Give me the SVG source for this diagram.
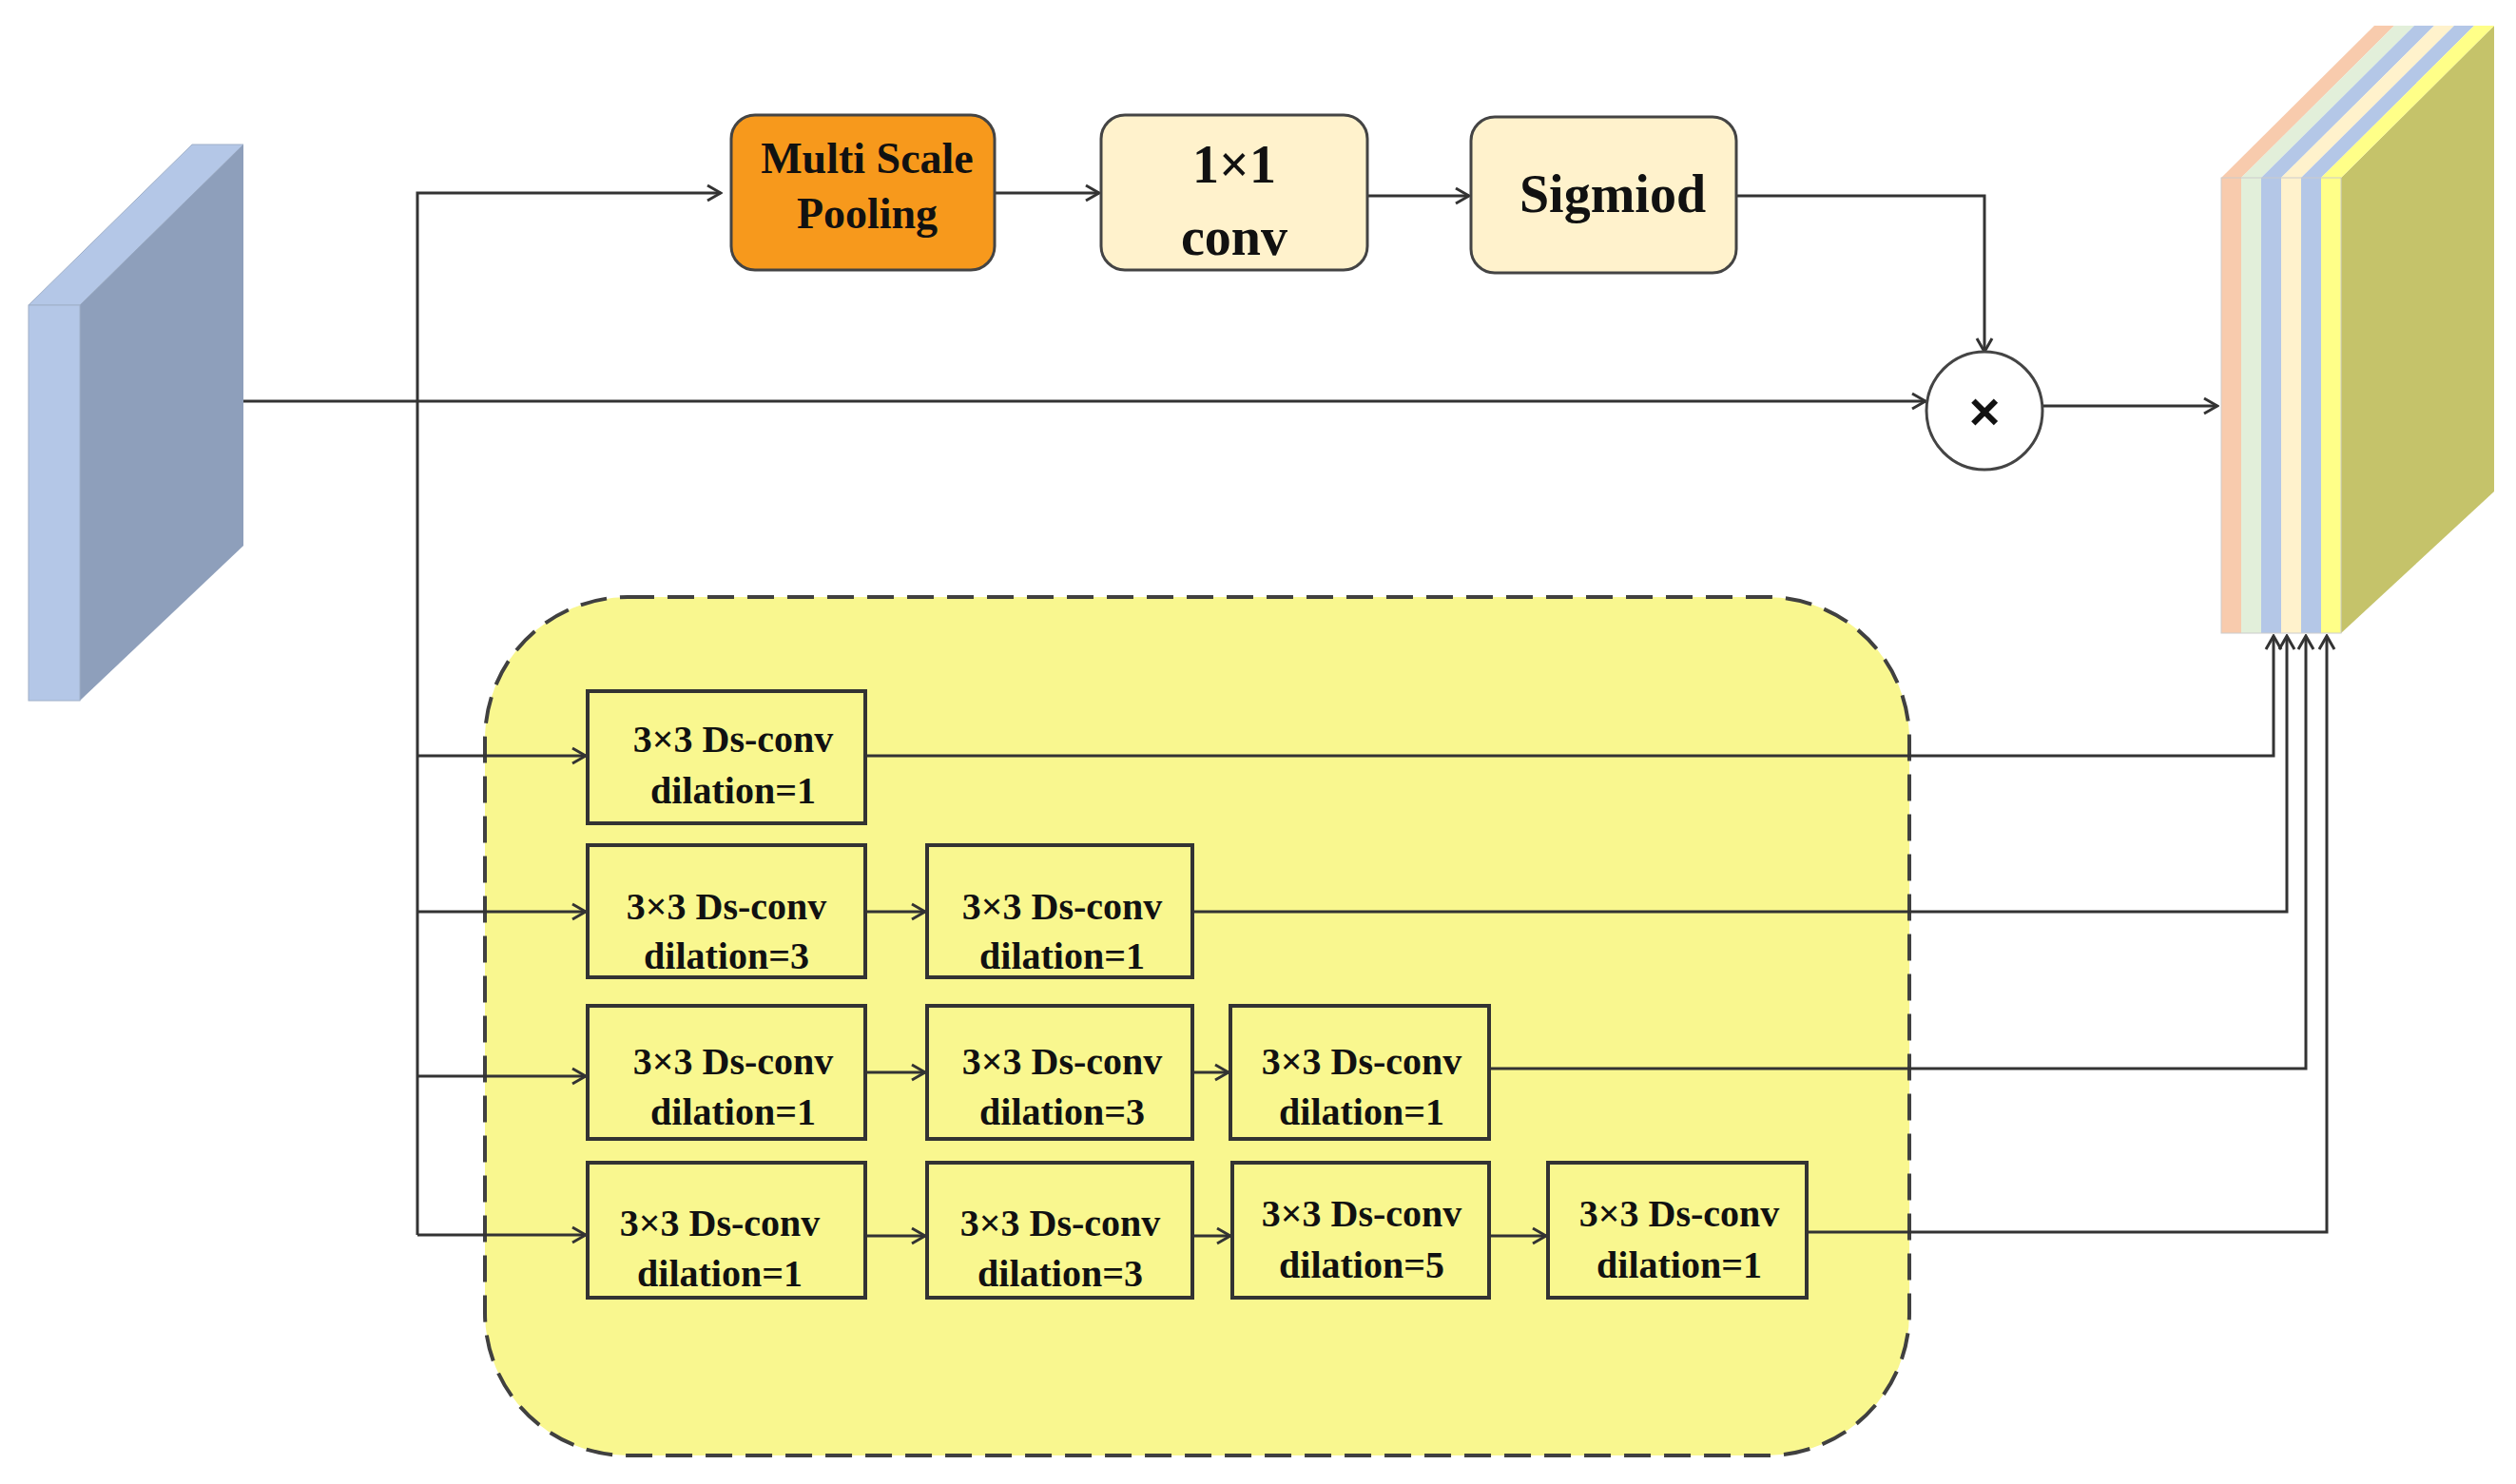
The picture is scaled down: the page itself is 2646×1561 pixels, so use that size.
<svg xmlns="http://www.w3.org/2000/svg" width="2646" height="1561" viewBox="0 0 2646 1561">
<style>
.ln{fill:none;stroke:#333;stroke-width:3}
.bx{fill:#f9f78f;stroke:#333;stroke-width:4}
.t{font-family:"Liberation Serif",serif;font-weight:bold;fill:#111;text-anchor:middle}
.s{font-size:40px}
.top{stroke:#444;stroke-width:3}
</style>
<defs>
<marker id="a" viewBox="0 0 20 20" refX="18" refY="10" markerWidth="20" markerHeight="20" markerUnits="userSpaceOnUse" orient="auto">
<path d="M4,2 L18,10 L4,18" fill="none" stroke="#333" stroke-width="3"/>
</marker>
</defs>
<rect width="2646" height="1561" fill="#fff"/>
<g id="input">
<polygon points="30,321 84,321 256,152 202,152" fill="#b4c7e7" stroke="#a0b0c8"/>
<polygon points="84,321 256,152 256,574 84,737" fill="#8e9fbb"/>
<rect x="30" y="321" width="54" height="416" fill="#b4c7e7" stroke="#a0b0c8"/>
</g>
<g id="group-bg">
<rect x="510" y="628" width="1498" height="903" rx="150" fill="#f9f78f" stroke="#404040" stroke-width="4" stroke-dasharray="28,14"/>
</g>
<g id="connectors">
<path class="ln" d="M439,1299 V203 H758" marker-end="url(#a)"/>
<path class="ln" d="M1046,203 H1156" marker-end="url(#a)"/>
<path class="ln" d="M1438,206 H1545" marker-end="url(#a)"/>
<path class="ln" d="M1826,206 H2087 V370" marker-end="url(#a)"/>
<path class="ln" d="M256,422 H2025" marker-end="url(#a)"/>
<path class="ln" d="M2149,427 H2332" marker-end="url(#a)"/>
<path class="ln" d="M439,795 H616" marker-end="url(#a)"/>
<path class="ln" d="M439,959 H616" marker-end="url(#a)"/>
<path class="ln" d="M439,1132 H616" marker-end="url(#a)"/>
<path class="ln" d="M439,1299 H616" marker-end="url(#a)"/>
<path class="ln" d="M910,959 H973" marker-end="url(#a)"/>
<path class="ln" d="M910,1128 H973" marker-end="url(#a)"/>
<path class="ln" d="M1254,1128 H1292" marker-end="url(#a)"/>
<path class="ln" d="M910,1300 H973" marker-end="url(#a)"/>
<path class="ln" d="M1254,1300 H1294" marker-end="url(#a)"/>
<path class="ln" d="M1566,1300 H1626" marker-end="url(#a)"/>
<path class="ln" d="M910,795 H2391 V669" marker-end="url(#a)"/>
<path class="ln" d="M1254,959 H2405 V669" marker-end="url(#a)"/>
<path class="ln" d="M1566,1124 H2425 V669" marker-end="url(#a)"/>
<path class="ln" d="M1900,1296 H2447 V669" marker-end="url(#a)"/>
</g>
<g id="msp"><rect x="769" y="121" width="277" height="163" rx="25" fill="#f7991c" stroke="#444" stroke-width="3"/>
<text class="t" x="912" y="182" font-size="46">Multi Scale</text><text class="t" x="912" y="240" font-size="46">Pooling</text></g>
<g id="conv1"><rect x="1158" y="121" width="280" height="163" rx="25" fill="#fff2cc" stroke="#444" stroke-width="3"/>
<text class="t" x="1298" y="192" font-size="56">1×1</text><text class="t" x="1298" y="268" font-size="56">conv</text></g>
<g id="sig"><rect x="1547" y="123" width="279" height="164" rx="25" fill="#fff2cc" stroke="#444" stroke-width="3"/>
<text class="t" x="1696" y="223" font-size="56">Sigmiod</text></g>
<g id="mul"><ellipse cx="2087" cy="432" rx="61" ry="62" fill="#fff" stroke="#444" stroke-width="3"/>
<text x="2087" y="452" font-family="Liberation Sans,sans-serif" font-weight="bold" font-size="56" text-anchor="middle" fill="#111">×</text></g>
<g id="output">
<polygon points="2462,187 2623,27 2623,517 2462,666" fill="#c5c36a"/>
<polygon points="2336,187 2357,187 2518,27 2497,27" fill="#f8cbad"/>
<polygon points="2357,187 2378,187 2539,27 2518,27" fill="#e2efda"/>
<polygon points="2378,187 2399,187 2560,27 2539,27" fill="#b4c7e7"/>
<polygon points="2399,187 2420,187 2581,27 2560,27" fill="#fff2cc"/>
<polygon points="2420,187 2441,187 2602,27 2581,27" fill="#b4c7e7"/>
<polygon points="2441,187 2462,187 2623,27 2602,27" fill="#ffff88"/>
<rect x="2336" y="187" width="21" height="479" fill="#f8cbad"/>
<rect x="2357" y="187" width="21" height="479" fill="#e2efda"/>
<rect x="2378" y="187" width="21" height="479" fill="#b4c7e7"/>
<rect x="2399" y="187" width="21" height="479" fill="#fff2cc"/>
<rect x="2420" y="187" width="21" height="479" fill="#b4c7e7"/>
<rect x="2441" y="187" width="21" height="479" fill="#ffff88"/>
<rect x="2336" y="187" width="126" height="479" fill="none" stroke="#ccc" stroke-width="1"/>
</g>
<g id="r1b1"><rect class="bx" x="618" y="727" width="292" height="139"/><text class="t s" x="771" y="791">3×3 Ds-conv</text><text class="t s" x="771" y="845">dilation=1</text></g>
<g id="r2b1"><rect class="bx" x="618" y="889" width="292" height="139"/><text class="t s" x="764" y="967">3×3 Ds-conv</text><text class="t s" x="764" y="1019">dilation=3</text></g>
<g id="r2b2"><rect class="bx" x="975" y="889" width="279" height="139"/><text class="t s" x="1117" y="967">3×3 Ds-conv</text><text class="t s" x="1117" y="1019">dilation=1</text></g>
<g id="r3b1"><rect class="bx" x="618" y="1058" width="292" height="140"/><text class="t s" x="771" y="1130">3×3 Ds-conv</text><text class="t s" x="771" y="1183">dilation=1</text></g>
<g id="r3b2"><rect class="bx" x="975" y="1058" width="279" height="140"/><text class="t s" x="1117" y="1130">3×3 Ds-conv</text><text class="t s" x="1117" y="1183">dilation=3</text></g>
<g id="r3b3"><rect class="bx" x="1294" y="1058" width="272" height="140"/><text class="t s" x="1432" y="1130">3×3 Ds-conv</text><text class="t s" x="1432" y="1183">dilation=1</text></g>
<g id="r4b1"><rect class="bx" x="618" y="1223" width="292" height="142"/><text class="t s" x="757" y="1300">3×3 Ds-conv</text><text class="t s" x="757" y="1353">dilation=1</text></g>
<g id="r4b2"><rect class="bx" x="975" y="1223" width="279" height="142"/><text class="t s" x="1115" y="1300">3×3 Ds-conv</text><text class="t s" x="1115" y="1353">dilation=3</text></g>
<g id="r4b3"><rect class="bx" x="1296" y="1223" width="270" height="142"/><text class="t s" x="1432" y="1290">3×3 Ds-conv</text><text class="t s" x="1432" y="1344">dilation=5</text></g>
<g id="r4b4"><rect class="bx" x="1628" y="1223" width="272" height="142"/><text class="t s" x="1766" y="1290">3×3 Ds-conv</text><text class="t s" x="1766" y="1344">dilation=1</text></g>
</svg>
